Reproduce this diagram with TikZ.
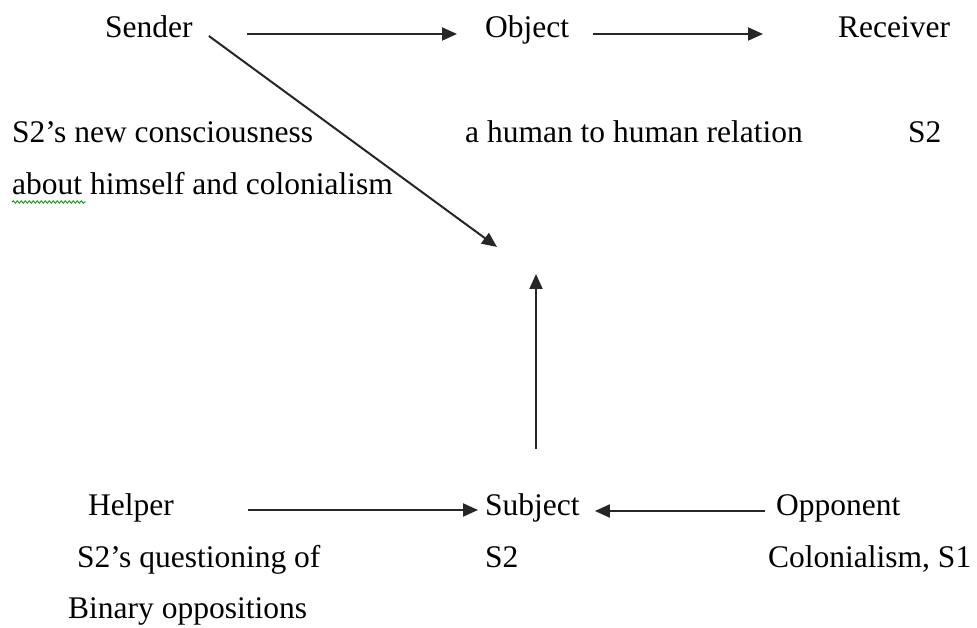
\documentclass[tikz,border=0pt]{standalone}
\usepackage{fontspec}
\setmainfont{Liberation Serif}
\usetikzlibrary{arrows.meta,decorations.pathmorphing}
\begin{document}
\begin{tikzpicture}[x=1pt,y=-1pt,
  lbl/.style={anchor=base west,inner sep=0pt,font=\fontsize{31.5pt}{36pt}\selectfont,text=black},
  arr/.style={line width=2pt,draw=black!85,-{Triangle[length=15pt,width=13pt]}},
  squig/.style={draw=green!55!black,line width=0.8pt,decorate,decoration={snake,amplitude=1.2pt,segment length=4pt}}]
\useasboundingbox (0,0) rectangle (977,628);
% top row
\node[lbl] (sender) at (105,38) {Sender};
\node[lbl] (object) at (485,38) {Object};
\node[lbl] (receiver) at (838,38) {Receiver};
\node[lbl] (cons1) at (12,143) {S2’s new consciousness};
\node[lbl] (cons2) at (12,195) {about himself and colonialism};
\node[lbl] (rel) at (465,143) {a human to human relation};
\node[lbl] (recs2) at (908,143) {S2};
% bottom row
\node[lbl] (helper) at (88,515) {Helper};
\node[lbl] (subject) at (485,515) {Subject};
\node[lbl] (opponent) at (776,515) {Opponent};
\node[lbl] (quest) at (77,567) {S2’s questioning of};
\node[lbl] (subs2) at (485,567) {S2};
\node[lbl] (colon) at (768,567) {Colonialism, S1};
\node[lbl] (binary) at (68,618) {Binary oppositions};
% free ends
\coordinate (diagend) at (497,247);
\coordinate (vertend) at (536,274);
\coordinate (sqa) at (12,202);
\coordinate (sqb) at (86,202);
% connectors
\draw[arr] ([xshift=54pt,yshift=4pt]sender.base east) -- ([xshift=-28pt,yshift=4pt]object.base west);
\draw[arr] ([xshift=24pt,yshift=4pt]object.base east) -- ([xshift=-75pt,yshift=4pt]receiver.base west);
\draw[arr] ([xshift=16pt,yshift=2pt]sender.base east) -- (diagend);
\draw[arr] (subject.north west -| vertend) ++(0,-44) -- (vertend);
\draw[arr] ([xshift=74pt,yshift=5pt]helper.base east) -- ([xshift=-7pt,yshift=5pt]subject.base west);
\draw[arr] ([xshift=-11pt,yshift=4pt]opponent.base west) -- ([xshift=15pt,yshift=4pt]subject.base east);
\draw[squig] (sqa) -- (sqb);
\end{tikzpicture}
\end{document}
